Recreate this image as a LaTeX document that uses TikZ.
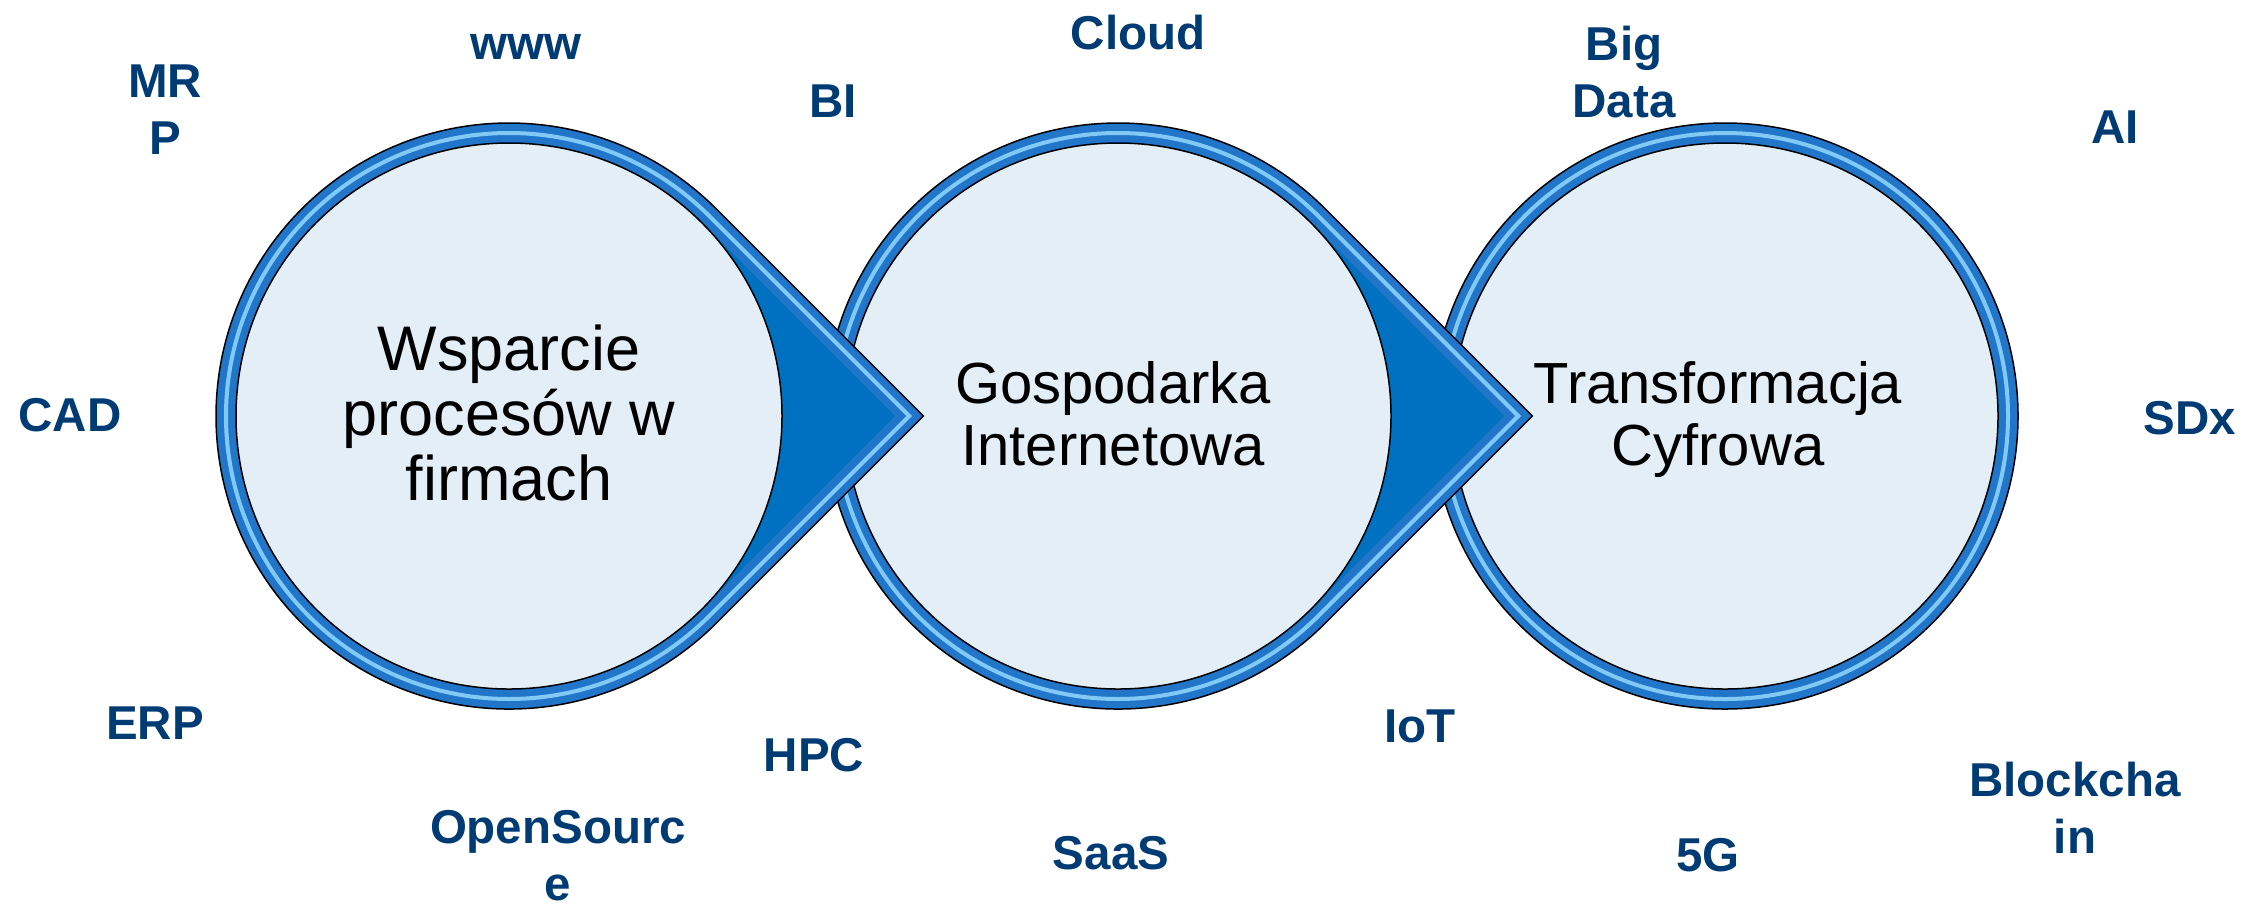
\documentclass[tikz,border=0pt]{standalone}
\usepackage{fontspec}
\setmainfont{Liberation Sans}

\definecolor{kolNapis}{RGB}{0,59,115}
\definecolor{kolObwodka}{RGB}{34,118,202}
\definecolor{kolGrot}{RGB}{0,112,192}
\definecolor{kolBlask}{RGB}{130,202,246}
\definecolor{kolWnetrze}{RGB}{228,238,247}

\tikzset{every picture/.style={line width=0.75pt}}
\tikzset{
  napis/.style={text=kolNapis, font=\fontsize{23.75}{28.5}\selectfont\bfseries, align=center, inner sep=0pt},
  opis/.style={text=black, font=\fontsize{29}{31}\selectfont, align=center, inner sep=0pt},
  obwodka/.style={draw=black, fill=kolObwodka},
  blask/.style={draw=kolBlask, line width=2pt},
  grot/.style={fill=kolGrot},
  wnetrze/.style={draw=black, fill=kolWnetrze}
}

\begin{document}
\begin{tikzpicture}[x=0.5pt,y=0.5pt,yscale=-1]
	\useasboundingbox (0,0) rectangle (2242,907);

	%Shape: Circle [Transformacja Cyfrowa]
	\draw [obwodka] (1725,416) circle (293);
	\draw [blask] (1725,416) circle (283);
	\draw [wnetrze] (1725,416) circle (273);

	%Shape: Teardrop [Gospodarka Internetowa]
	\draw [obwodka] (1325.2,623.2) arc (45:315:293) -- (1532.4,416) -- cycle;
	\draw [blask] (1318.1,616.1) arc (45:315:283) -- (1518.2,416) -- cycle;
	\fill [grot] (1311,609) arc (45:315:273) -- (1504.1,416) -- cycle;
	\draw [wnetrze] (1118,416) circle (273);

	%Shape: Teardrop [Wsparcie procesow]
	\draw [obwodka] (716.2,623.2) arc (45:315:293) -- (923.4,416) -- cycle;
	\draw [blask] (709.1,616.1) arc (45:315:283) -- (909.2,416) -- cycle;
	\fill [grot] (702,609) arc (45:315:273) -- (895.1,416) -- cycle;
	\draw [wnetrze] (509,416) circle (273);

	% Text Node
	\draw (509,413) node (wsparcie) [opis, font=\fontsize{31.5}{32.5}\selectfont] {Wsparcie\\procesów w\\firmach};
	% Text Node
	\draw (1113,414) node (gospodarka) [opis] {Gospodarka\\Internetowa};
	% Text Node
	\draw (1718,419) node (transformacja) [opis] {Transformacja\\Cyfrowa};

	% Text Node
	\draw (165,110) node (mrp) [napis] {MR\\P};
	% Text Node
	\draw (526,47) node (www) [napis] {www};
	% Text Node
	\draw (833,101) node (bi) [napis] {BI};
	% Text Node
	\draw (1138,33) node (cloud) [napis] {Cloud};
	% Text Node
	\draw (1624,72) node (bigdata) [napis] {Big\\Data};
	% Text Node
	\draw (2115,127) node (ai) [napis] {AI};
	% Text Node
	\draw (70,415) node (cad) [napis] {CAD};
	% Text Node
	\draw (2190,418) node (sdx) [napis] {SDx};
	% Text Node
	\draw (155,723) node (erp) [napis] {ERP};
	% Text Node
	\draw (814,755) node (hpc) [napis] {HPC};
	% Text Node
	\draw (558,856) node (opensource) [napis] {OpenSourc\\e};
	% Text Node
	\draw (1111,853) node (saas) [napis] {SaaS};
	% Text Node
	\draw (1420,726) node (iot) [napis] {IoT};
	% Text Node
	\draw (1708,855) node (piecg) [napis] {5G};
	% Text Node
	\draw (2075,808) node (blockchain) [napis] {Blockcha\\in};

\end{tikzpicture}
\end{document}
